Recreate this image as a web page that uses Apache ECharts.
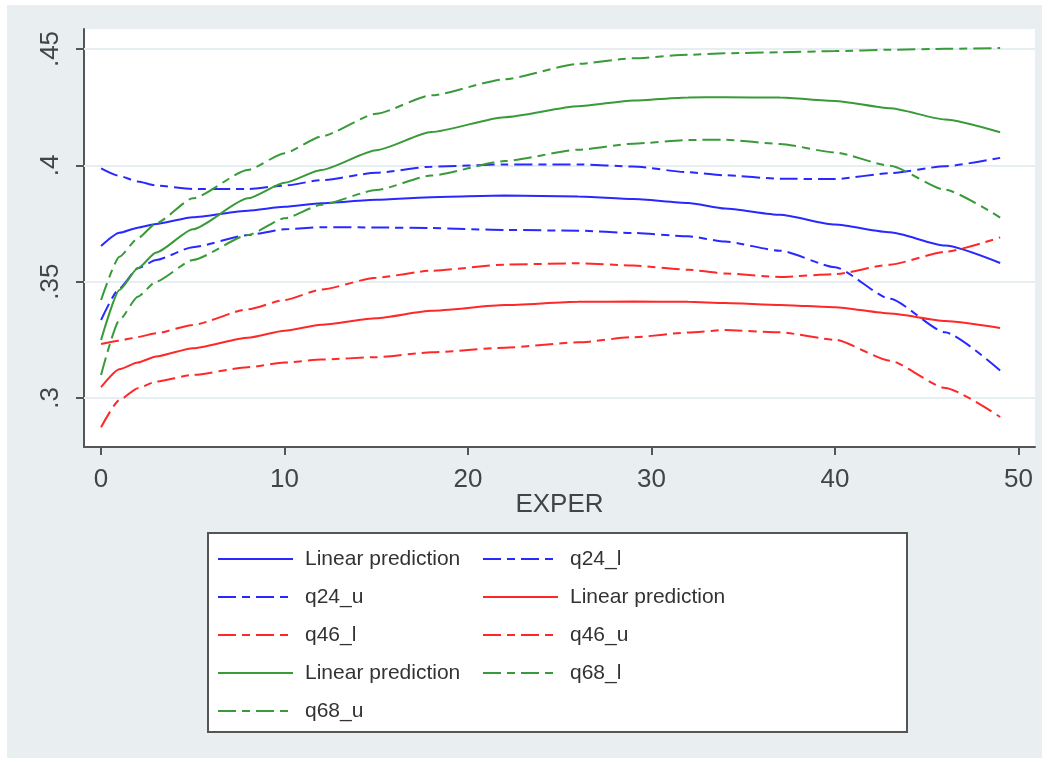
<!DOCTYPE html>
<html><head><meta charset="utf-8">
<script src="https://cdn.jsdelivr.net/npm/echarts@6/dist/echarts.min.js"></script>
<style>
html,body{margin:0;padding:0;background:#fff;width:1049px;height:763px;overflow:hidden}
#bg{position:absolute;left:7px;top:5px;width:1035px;height:753px;background:#e9eff1}
#chart{position:absolute;left:0;top:0;width:1049px;height:763px}
</style></head>
<body><div id="bg"></div><div id="chart"></div>
<script>
const exper = [0,1,2,3,5,8,10,12,15,18,22,26,29,32,34,37,40,43,46,49];
const lp24  = [.3653,.3710,.3732,.3748,.3777,.3805,.3822,.3837,.3852,.3863,.3870,.3866,.3855,.3838,.3814,.3787,.3745,.3712,.3655,.3580];
const q24_l = [.3335,.3471,.3557,.3593,.3648,.3700,.3725,.3734,.3733,.3730,.3722,.3719,.3709,.3695,.3672,.3633,.3562,.3426,.3282,.3118];
const q24_u = [.3987,.3954,.3930,.3913,.3898,.3898,.3913,.3936,.3968,.3994,.4004,.4004,.3995,.3970,.3957,.3942,.3941,.3966,.3996,.4032];
const lp46  = [.3046,.3123,.3152,.3178,.3214,.3259,.3289,.3315,.3343,.3375,.3399,.3413,.3414,.3413,.3408,.3400,.3390,.3363,.3331,.3301];
const q46_l = [.2874,.2991,.3042,.3070,.3099,.3132,.3152,.3165,.3175,.3196,.3216,.3239,.3261,.3281,.3292,.3282,.3250,.3160,.3043,.2918];
const q46_u = [.3232,.3246,.3262,.3278,.3314,.3381,.3421,.3466,.3517,.3547,.3573,.3579,.3569,.3551,.3535,.3520,.3532,.3573,.3628,.3690];
const lp68  = [.3249,.3464,.3557,.3625,.3725,.3858,.3925,.3980,.4065,.4143,.4207,.4254,.4279,.4292,.4293,.4291,.4277,.4245,.4197,.4142];
const q68_l = [.3099,.3335,.3435,.3500,.3593,.3700,.3772,.3830,.3894,.3956,.4018,.4067,.4093,.4109,.4110,.4092,.4055,.3998,.3895,.3775];
const q68_u = [.3421,.3607,.3686,.3751,.3858,.3980,.4052,.4124,.4222,.4301,.4370,.4436,.4460,.4475,.4482,.4486,.4491,.4497,.4501,.4504];
const xTicks = [0,10,20,30,40,50];
const yTicks = [0.3,0.35,0.4,0.45];
const legendLabels = {lp24:'Linear prediction', q24_l:'q24_l', q24_u:'q24_u', lp46:'Linear prediction', q46_l:'q46_l', q46_u:'q46_u', lp68:'Linear prediction', q68_l:'q68_l', q68_u:'q68_u'};

const BLUE='#2828ff', RED='#ff2828', GREEN='#389a38';
const DASH=[18,6,8,6];
function mk(name, vals, color, dashed){
  return {name, type:'line', data: exper.map((x,i)=>[x, vals[i]]), symbol:'none', smooth:0.2, smoothMonotone:'x',
    lineStyle:{color, width:2, type: dashed?DASH:'solid'}, itemStyle:{color}, z:3, animation:false};
}
const series = [
  mk('lp24', lp24, BLUE, false), mk('q24_l', q24_l, BLUE, true), mk('q24_u', q24_u, BLUE, true),
  mk('lp46', lp46, RED, false), mk('q46_l', q46_l, RED, true), mk('q46_u', q46_u, RED, true),
  mk('lp68', lp68, GREEN, false), mk('q68_l', q68_l, GREEN, true), mk('q68_u', q68_u, GREEN, true)
];
series[0].markLine = {silent:true, symbol:['none','none'], label:{show:false}, animation:false,
  lineStyle:{color:'#e6eef1', width:2, type:'solid'}, data: yTicks.map(v=>({yAxis:v})), z:1};

const FONT = 'Liberation Sans, Arial, sans-serif';
const legendCommon = {orient:'vertical', top:544, padding:0, itemWidth:75, itemHeight:14, itemGap:8, selectedMode:false,
  itemStyle:{opacity:0, borderWidth:0},
  formatter: n => legendLabels[n],
  textStyle:{fontFamily:FONT, fontSize:21, lineHeight:30, color:'#333', padding:[0,0,0,7]}};

const chart = echarts.init(document.getElementById('chart'), null, {renderer:'canvas'});
chart.setOption({
  animation:false,
  backgroundColor:'transparent',
  graphic:[{type:'rect', shape:{x:208,y:533,width:699,height:199}, style:{fill:'#fff', stroke:'#555', lineWidth:2}, z:0}],
  grid:{left:84, top:29, width:951, height:418, show:true, backgroundColor:'#fff', borderWidth:0},
  xAxis:{type:'value', min:-0.93, max:50.9,
    axisLine:{show:true, onZero:false, lineStyle:{color:'#555', width:2}},
    axisTick:{show:true, customValues:xTicks, length:8, lineStyle:{color:'#555', width:2}},
    axisLabel:{customValues:xTicks, fontSize:26, color:'#444', fontFamily:FONT, margin:20},
    splitLine:{show:false},
    name:'EXPER', nameLocation:'middle', nameGap:45, nameMoveOverlap:false,
    nameTextStyle:{fontSize:26, color:'#444', fontFamily:FONT}},
  yAxis:{type:'value', min:0.2789, max:0.4586,
    axisLine:{show:true, onZero:false, lineStyle:{color:'#555', width:2}},
    axisTick:{show:true, customValues:yTicks, length:8, lineStyle:{color:'#555', width:2}},
    axisLabel:{customValues:yTicks, rotate:90, fontSize:26, color:'#444', fontFamily:FONT, margin:20,
      formatter: v => String(+v.toFixed(2)).replace(/^0/, '')},
    splitLine:{show:false}},
  legend:[Object.assign({left:217, data:['lp24','q24_u','q46_l','lp68','q68_u']}, legendCommon),
          Object.assign({left:482, data:['q24_l','lp46','q46_u','q68_l']}, legendCommon)],
  series
});
</script>
</body></html>
